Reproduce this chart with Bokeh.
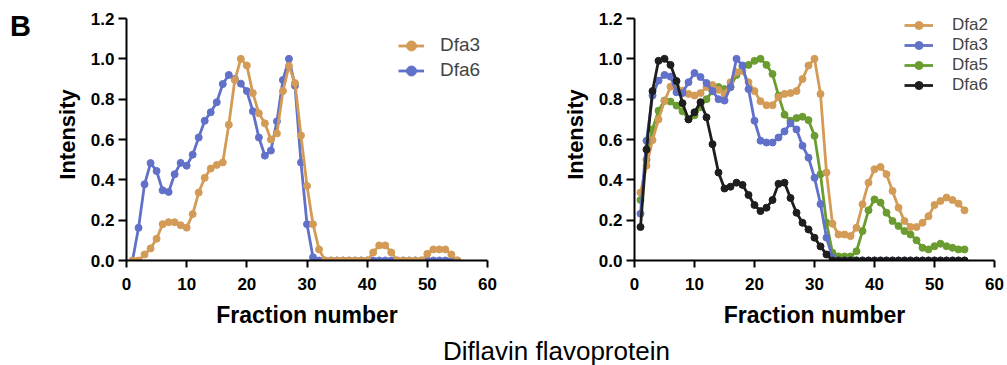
from bokeh.plotting import figure
from bokeh.models import (Range1d, FixedTicker, PrintfTickFormatter, Legend,
                          LegendItem, Div)
from bokeh.layouts import row, column
from bokeh.embed import file_html
from bokeh.resources import INLINE

fractions = list(range(1, 56))

# Left panel
left_dfa3 = [0, 0, 0.03, 0.06, 0.108, 0.18, 0.19, 0.19, 0.175, 0.163,
             0.23, 0.337, 0.41, 0.456, 0.474, 0.486, 0.673, 0.895, 1.0, 0.967,
             0.83, 0.73, 0.68, 0.6, 0.63, 0.84, 0.965, 0.88, 0.62, 0.37,
             0.18, 0.055, 0, 0, 0, 0, 0, 0, 0, 0,
             0.04, 0.075, 0.075, 0.04, 0, 0, 0, 0, 0, 0.033,
             0.055, 0.055, 0.055, 0.03, 0]
left_dfa6 = [0, 0.162, 0.378, 0.483, 0.444, 0.348, 0.34, 0.428, 0.484, 0.47,
             0.525, 0.61, 0.693, 0.735, 0.785, 0.875, 0.92, 0.9, 0.877, 0.84,
             0.74, 0.61, 0.52, 0.545, 0.69, 0.895, 1.0, 0.867, 0.486, 0.18,
             0.016, 0, 0, 0, 0, 0, 0, 0, 0, 0,
             0, 0, 0, 0, 0, 0, 0, 0, 0, 0,
             0, 0, 0, 0, 0]

# Right panel
right_dfa2 = [0.337, 0.47, 0.597, 0.70, 0.79, 0.862, 0.86, 0.842, 0.826, 0.818,
              0.83, 0.86, 0.87, 0.846, 0.826, 0.884, 0.934, 0.94, 0.884, 0.84,
              0.79, 0.77, 0.77, 0.81, 0.826, 0.83, 0.84, 0.9, 0.967, 1.0,
              0.826, 0.436, 0.182, 0.129, 0.129, 0.121, 0.163, 0.279, 0.386, 0.453,
              0.464, 0.428, 0.345, 0.262, 0.196, 0.166, 0.166, 0.187, 0.22, 0.275,
              0.295, 0.312, 0.3, 0.282, 0.249]
right_dfa3 = [0.232, 0.594, 0.818, 0.892, 0.92, 0.912, 0.834, 0.83, 0.884, 0.93,
              0.91, 0.88, 0.84, 0.80, 0.793, 0.86, 1.0, 0.967, 0.85, 0.693,
              0.594, 0.585, 0.585, 0.61, 0.64, 0.68, 0.65, 0.569, 0.51, 0.41,
              0.28, 0.113, 0.013, 0, 0, 0, 0, 0, 0, 0,
              0, 0, 0, 0, 0, 0, 0, 0, 0, 0,
              0, 0, 0, 0, 0]
right_dfa5 = [0.3, 0.5, 0.65, 0.743, 0.793, 0.788, 0.768, 0.74, 0.70, 0.72,
              0.76, 0.8, 0.84, 0.86, 0.85, 0.86, 0.92, 0.96, 0.97, 0.99,
              1.0, 0.97, 0.925, 0.818, 0.723, 0.693, 0.706, 0.713, 0.696, 0.618,
              0.428, 0.187, 0.038, 0.02, 0.02, 0.02, 0.046, 0.146, 0.249, 0.303,
              0.287, 0.237, 0.196, 0.171, 0.146, 0.129, 0.1, 0.063, 0.055, 0.071,
              0.083, 0.071, 0.063, 0.055, 0.055]
right_dfa6 = [0.166, 0.55, 0.84, 0.99, 1.0, 0.97, 0.89, 0.78, 0.70, 0.735,
              0.785, 0.71, 0.577, 0.436, 0.357, 0.366, 0.386, 0.375, 0.325, 0.275,
              0.245, 0.262, 0.30, 0.38, 0.386, 0.31, 0.237, 0.187, 0.154, 0.113,
              0.07, 0.03, 0, 0, 0, 0, 0, 0, 0, 0,
              0, 0, 0, 0, 0, 0, 0, 0, 0, 0,
              0, 0, 0, 0, 0]

x_ticks = [0, 10, 20, 30, 40, 50, 60]
y_ticks = [0, 0.2, 0.4, 0.6, 0.8, 1.0, 1.2]

ORANGE = "#D39B55"
BLUE = "#6170C9"
GREEN = "#6A9C2F"
BLACK = "#1E1E1E"
FONT = "Liberation Sans"
FIG_H = 337
Y_TOP = 1.2 + 10 / (242 / 1.2)   # extra headroom above the axis for legends


def make_fig(width, border_left, border_right):
    p = figure(width=width, height=FIG_H, output_backend="svg", toolbar_location=None,
               x_range=Range1d(0, 60), y_range=Range1d(0, Y_TOP),
               min_border_left=border_left, min_border_right=border_right,
               min_border_top=8, min_border_bottom=77)
    p.outline_line_color = None
    p.xgrid.visible = False
    p.ygrid.visible = False
    p.background_fill_color = "white"
    p.border_fill_color = "white"
    for ax in (p.xaxis[0], p.yaxis[0]):
        ax.axis_line_width = 2
        ax.axis_line_color = "black"
        ax.major_tick_line_width = 2
        ax.major_tick_line_color = "black"
        ax.major_tick_in = 0
        ax.minor_tick_line_color = None
        ax.major_label_text_font = FONT
        ax.major_label_text_font_style = "bold"
        ax.major_label_text_font_size = "17px"
        ax.major_label_text_color = "black"
        ax.axis_label_text_font = FONT
        ax.axis_label_text_font_style = "bold"
        ax.axis_label_text_color = "black"
    p.yaxis[0].bounds = (0, 1.2)
    p.xaxis[0].axis_label_text_font_size = "23px"
    p.yaxis[0].axis_label_text_font_size = "22px"
    p.xaxis[0].ticker = FixedTicker(ticks=x_ticks)
    p.yaxis[0].ticker = FixedTicker(ticks=y_ticks)
    p.yaxis[0].formatter = PrintfTickFormatter(format="%.1f")
    p.xaxis[0].major_tick_out = 7
    p.yaxis[0].major_tick_out = 8
    p.xaxis[0].major_label_standoff = 10
    p.yaxis[0].major_label_standoff = 4
    p.xaxis[0].axis_label = "Fraction number"
    p.yaxis[0].axis_label = "Intensity"
    p.xaxis[0].axis_label_standoff = 9
    p.yaxis[0].axis_label_standoff = 8
    return p


def series(p, y, color):
    l = p.line(fractions, y, line_color=color, line_width=2.8)
    s = p.scatter(fractions, y, size=7, fill_color=color, line_color=color)
    return [l, s]


def style_legend(leg, size, gw, gh, standoff):
    leg.label_text_font = FONT
    leg.label_text_font_size = size
    leg.glyph_width = gw
    leg.glyph_height = gh
    leg.label_height = gh - 2
    leg.spacing = 0
    leg.padding = 0
    leg.margin = 0
    leg.label_standoff = standoff
    leg.border_line_color = None
    leg.background_fill_alpha = 0


# Panel letter
letter = Div(text=("<div style=\"font-family:'Liberation Sans';font-size:29px;"
                   "font-weight:bold;line-height:29px;padding-left:10px;"
                   "padding-top:12px;color:black;\">B</div>"),
             width=40, height=FIG_H, margin=0)

# Left figure
p1 = make_fig(457, 86, 10)
r6 = series(p1, left_dfa6, BLUE)
r3 = series(p1, left_dfa3, ORANGE)
leg1 = Legend(items=[LegendItem(label="Dfa3", renderers=r3),
                     LegendItem(label="Dfa6", renderers=r6)],
              location=(272, 177.5))
style_legend(leg1, "19px", 26, 25, 16)
p1.add_layout(leg1)

# Right figure
p2 = make_fig(507, 137, 10)
g5 = series(p2, right_dfa5, GREEN)
g2 = series(p2, right_dfa2, ORANGE)
g3 = series(p2, right_dfa3, BLUE)
g6 = series(p2, right_dfa6, BLACK)
leg2 = Legend(items=[LegendItem(label="Dfa2", renderers=g2),
                     LegendItem(label="Dfa3", renderers=g3),
                     LegendItem(label="Dfa5", renderers=g5),
                     LegendItem(label="Dfa6", renderers=g6)],
              location=(270, 165))
style_legend(leg2, "17px", 29, 20, 19)
p2.add_layout(leg2)

caption = Div(text=("<div style=\"font-family:'Liberation Sans';font-size:26px;"
                    "line-height:28px;padding-left:443px;white-space:nowrap;"
                    "color:black;\">Diflavin flavoprotein</div>"),
              width=1004, height=28, margin=0)

layout = column(row(letter, p1, p2), caption)

open("out.html", "w").write(file_html(layout, INLINE))
